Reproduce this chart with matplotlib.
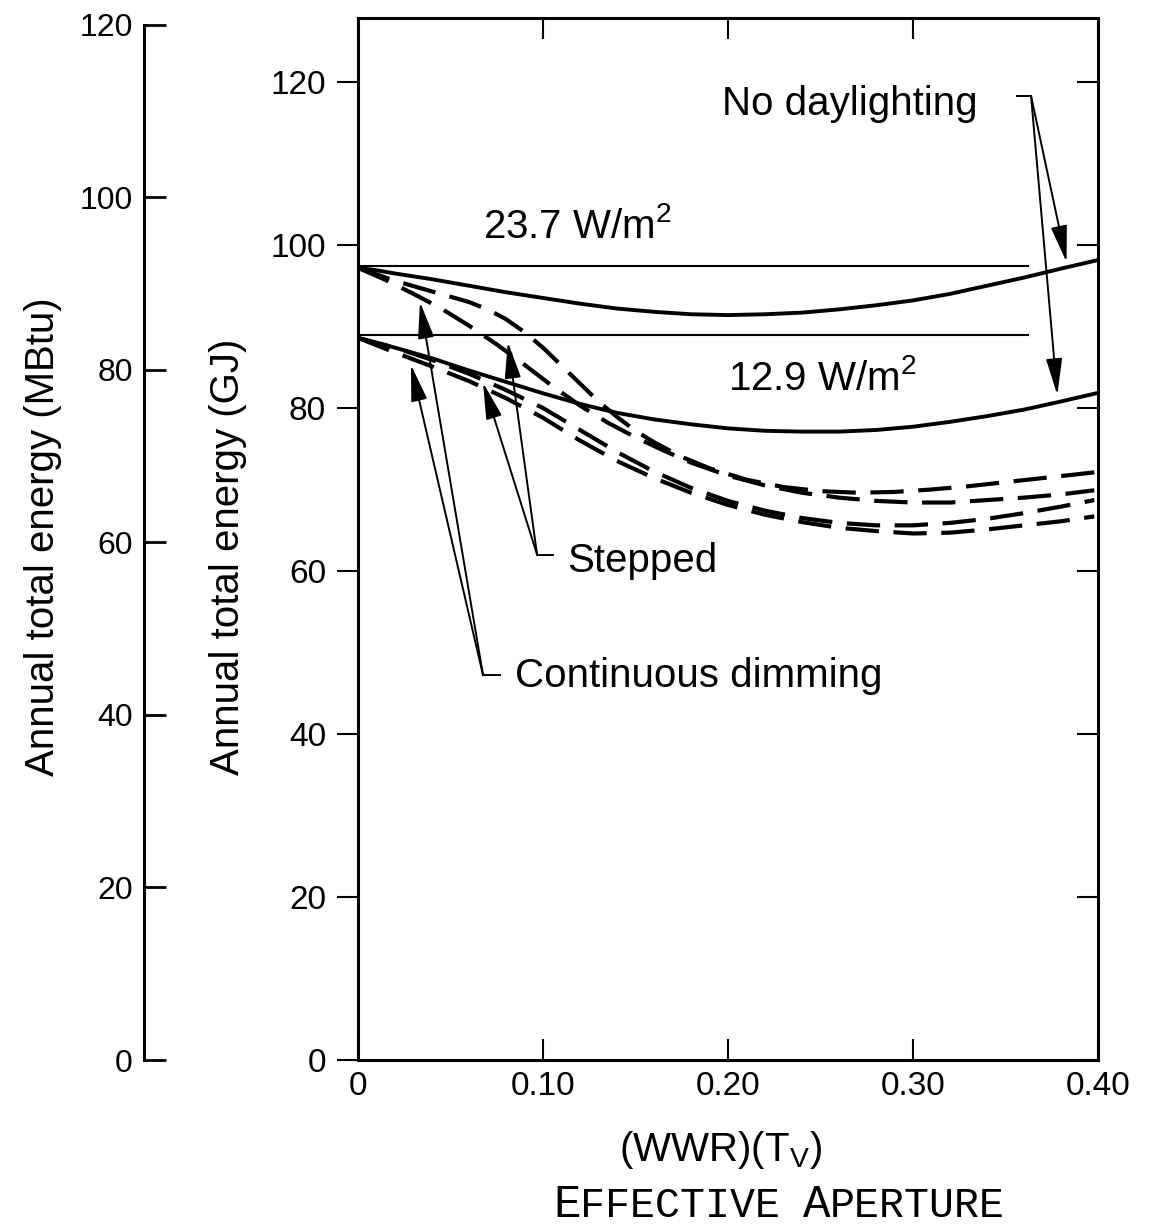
import numpy as np
import matplotlib.pyplot as plt

plt.rcParams['font.family'] = ['Liberation Sans', 'DejaVu Sans']
plt.rcParams['mathtext.fontset'] = 'custom'
plt.rcParams['mathtext.rm'] = 'Liberation Sans'

# --- data (GJ vs effective aperture) ---
base_x = [0, 0.362]
base_237 = 97.4
base_129 = 89.0

nodl_237_x = [0, 0.01, 0.02, 0.04, 0.06, 0.08, 0.10, 0.12, 0.14, 0.16, 0.18, 0.20, 0.22,
              0.24, 0.26, 0.28, 0.30, 0.32, 0.34, 0.36, 0.38, 0.399]
nodl_237_y = [97.2, 96.9, 96.5, 95.8, 95.0, 94.2, 93.5, 92.8, 92.2, 91.8, 91.5, 91.4, 91.5,
              91.7, 92.1, 92.6, 93.2, 94.0, 95.0, 96.0, 97.1, 98.1]

nodl_129_x = [0, 0.02, 0.04, 0.06, 0.08, 0.10, 0.12, 0.14, 0.16, 0.18, 0.20, 0.22, 0.24,
              0.26, 0.28, 0.30, 0.32, 0.34, 0.36, 0.38, 0.399]
nodl_129_y = [88.6, 87.4, 86.1, 84.6, 83.2, 81.8, 80.5, 79.4, 78.6, 78.0, 77.5, 77.2, 77.1,
              77.1, 77.3, 77.7, 78.3, 79.0, 79.8, 80.8, 81.8]

step_237_x = [0, 0.02, 0.04, 0.06, 0.07, 0.08, 0.09, 0.10, 0.11, 0.12, 0.13, 0.14, 0.15,
              0.16, 0.175, 0.19, 0.21, 0.23, 0.25, 0.27, 0.29, 0.31, 0.33, 0.35, 0.37, 0.398]
step_237_y = [97.2, 95.6, 94.3, 93.0, 92.1, 90.9, 89.3, 87.4, 85.2, 83.0, 80.8, 78.9, 77.2,
              75.8, 74.0, 72.6, 71.2, 70.3, 69.8, 69.6, 69.7, 70.0, 70.4, 70.9, 71.4, 72.1]

cont_237_x = [0, 0.015, 0.03, 0.045, 0.06, 0.075, 0.09, 0.105, 0.12, 0.135, 0.15, 0.165,
              0.18, 0.20, 0.22, 0.24, 0.26, 0.28, 0.30, 0.32, 0.34, 0.36, 0.38, 0.398]
cont_237_y = [97.2, 95.7, 94.0, 92.2, 90.1, 87.8, 85.3, 82.7, 80.3, 78.2, 76.4, 74.8,
              73.3, 71.7, 70.5, 69.6, 69.0, 68.6, 68.4, 68.4, 68.7, 69.0, 69.4, 69.9]

step_129_x = [0, 0.02, 0.04, 0.06, 0.08, 0.10, 0.12, 0.14, 0.16, 0.18, 0.20, 0.22, 0.24,
              0.26, 0.28, 0.30, 0.32, 0.34, 0.36, 0.38, 0.398]
step_129_y = [88.6, 87.4, 85.9, 84.2, 82.2, 80.0, 77.3, 74.6, 72.2, 70.2, 68.6, 67.4, 66.5,
              65.9, 65.6, 65.6, 65.9, 66.4, 67.1, 67.9, 68.7]

cont_129_x = [0, 0.02, 0.04, 0.06, 0.08, 0.10, 0.12, 0.14, 0.16, 0.18, 0.20, 0.22, 0.24,
              0.26, 0.28, 0.30, 0.32, 0.34, 0.36, 0.38, 0.398]
cont_129_y = [88.6, 86.8, 85.1, 83.3, 81.2, 78.8, 76.0, 73.5, 71.4, 69.6, 68.1, 66.9, 66.0,
              65.3, 64.9, 64.6, 64.7, 65.1, 65.6, 66.1, 66.7]

gj_ticks = [0, 20, 40, 60, 80, 100, 120]
mbtu_ticks = [0, 20, 40, 60, 80, 100, 120]
x_ticks = [0, 0.1, 0.2, 0.3, 0.4]
x_labels = ['0', '0.10', '0.20', '0.30', '0.40']

W, H = 1149, 1229
fig = plt.figure(figsize=(W / 100, H / 100), dpi=100)

# main axes
ax = fig.add_axes([358 / W, (H - 1060) / H, 740 / W, 1042 / H])
ax.set_xlim(0, 0.4)
ax.set_ylim(0, 127.85)
for s in ax.spines.values():
    s.set_linewidth(2.2)

ax.set_xticks(x_ticks)
ax.set_xticklabels(x_labels)
ax.set_yticks(gj_ticks)
ax.tick_params(axis='x', which='both', direction='in', length=15, width=1.5,
               top=True, labelsize=24, pad=8)
ax.tick_params(axis='y', which='both', direction='out', length=15, width=1.5,
               labelsize=24, pad=8)
ax.tick_params(axis='y', right=True)
# right ticks point inward
for t in ax.yaxis.get_major_ticks():
    t.tick2line.set_marker(0)
    t.tick2line.set_markersize(15)

lw_solid = 2.8
ax.plot(base_x, [base_237, base_237], color='k', lw=1.5)
ax.plot(base_x, [base_129, base_129], color='k', lw=1.5)
ax.plot(nodl_237_x, nodl_237_y, color='k', lw=lw_solid)
ax.plot(nodl_129_x, nodl_129_y, color='k', lw=lw_solid)
for xs, ys in [(step_237_x, step_237_y), (cont_237_x, cont_237_y),
               (step_129_x, step_129_y), (cont_129_x, cont_129_y)]:
    ax.plot(xs, ys, color='k', lw=3.0, dashes=(8, 3.5), dash_capstyle='butt')

fs = 29
ax.text(0.0676, 100.9, r'23.7 W/m$^\mathregular{2}$', fontsize=fs, va='baseline')
ax.text(0.200, 82.2, r'12.9 W/m$^\mathregular{2}$', fontsize=fs, va='baseline')
ax.text(0.197, 116.0, 'No daylighting', fontsize=fs, va='baseline')
ax.text(0.113, 59.9, 'Stepped', fontsize=fs, va='baseline')
ax.text(0.0849, 45.8, 'Continuous dimming', fontsize=fs, va='baseline')

arrow = dict(arrowstyle='-|>,head_length=0.9,head_width=0.2', mutation_scale=25,
             lw=1.4, color='k', shrinkA=0, shrinkB=0)


def bracket(x0, x1, y, tips):
    ax.plot([x0, x1], [y, y], color='k', lw=1.4)
    for tx, ty in tips:
        ax.annotate('', xy=(tx, ty), xytext=(x0, y), arrowprops=arrow)


bracket(0.3638, 0.356, 118.3, [(0.383, 97.9), (0.378, 81.6)])
bracket(0.0968, 0.1054, 62.0, [(0.081, 88.1), (0.0676, 83.1)])
bracket(0.0676, 0.0768, 47.2, [(0.0335, 93.0), (0.0286, 85.3)])

# MBtu scale on the far left
ax2 = fig.add_axes([144 / W, (H - 1060) / H, 0.001, 1042 / H])
ax2.set_ylim(0, 120.8)
ax2.patch.set_visible(False)
for k in ['top', 'right', 'bottom']:
    ax2.spines[k].set_visible(False)
ax2.spines['left'].set_linewidth(2.2)
ax2.spines['left'].set_bounds(0, 120)
ax2.set_xticks([])
ax2.set_yticks(mbtu_ticks)
ax2.tick_params(axis='y', direction='in', length=16, width=2, labelsize=23, pad=8)

fig.text(228 / W, 1 - 557 / H, 'Annual total energy (GJ)', rotation=90,
         ha='center', va='center', fontsize=29)
fig.text(43 / W, 1 - 537 / H, 'Annual total energy (MBtu)', rotation=90,
         ha='center', va='center', fontsize=29)

fig.text(720 / W, 1 - 1150 / H, r'(WWR)(T$_\mathregular{V}$)', ha='center', va='center',
         fontsize=29)

# small-caps subtitle
mono = ['Liberation Mono', 'DejaVu Sans Mono']
yb = 1 - 1217 / H
for x, s, size in [(553, 'E', 33), (580, 'FFECTIVE', 30), (803, 'A', 33), (830, 'PERTURE', 30)]:
    fig.text(x / W, yb, s, family=mono, fontsize=size, va='baseline', ha='left')

fig.savefig('out.png', dpi=100)
